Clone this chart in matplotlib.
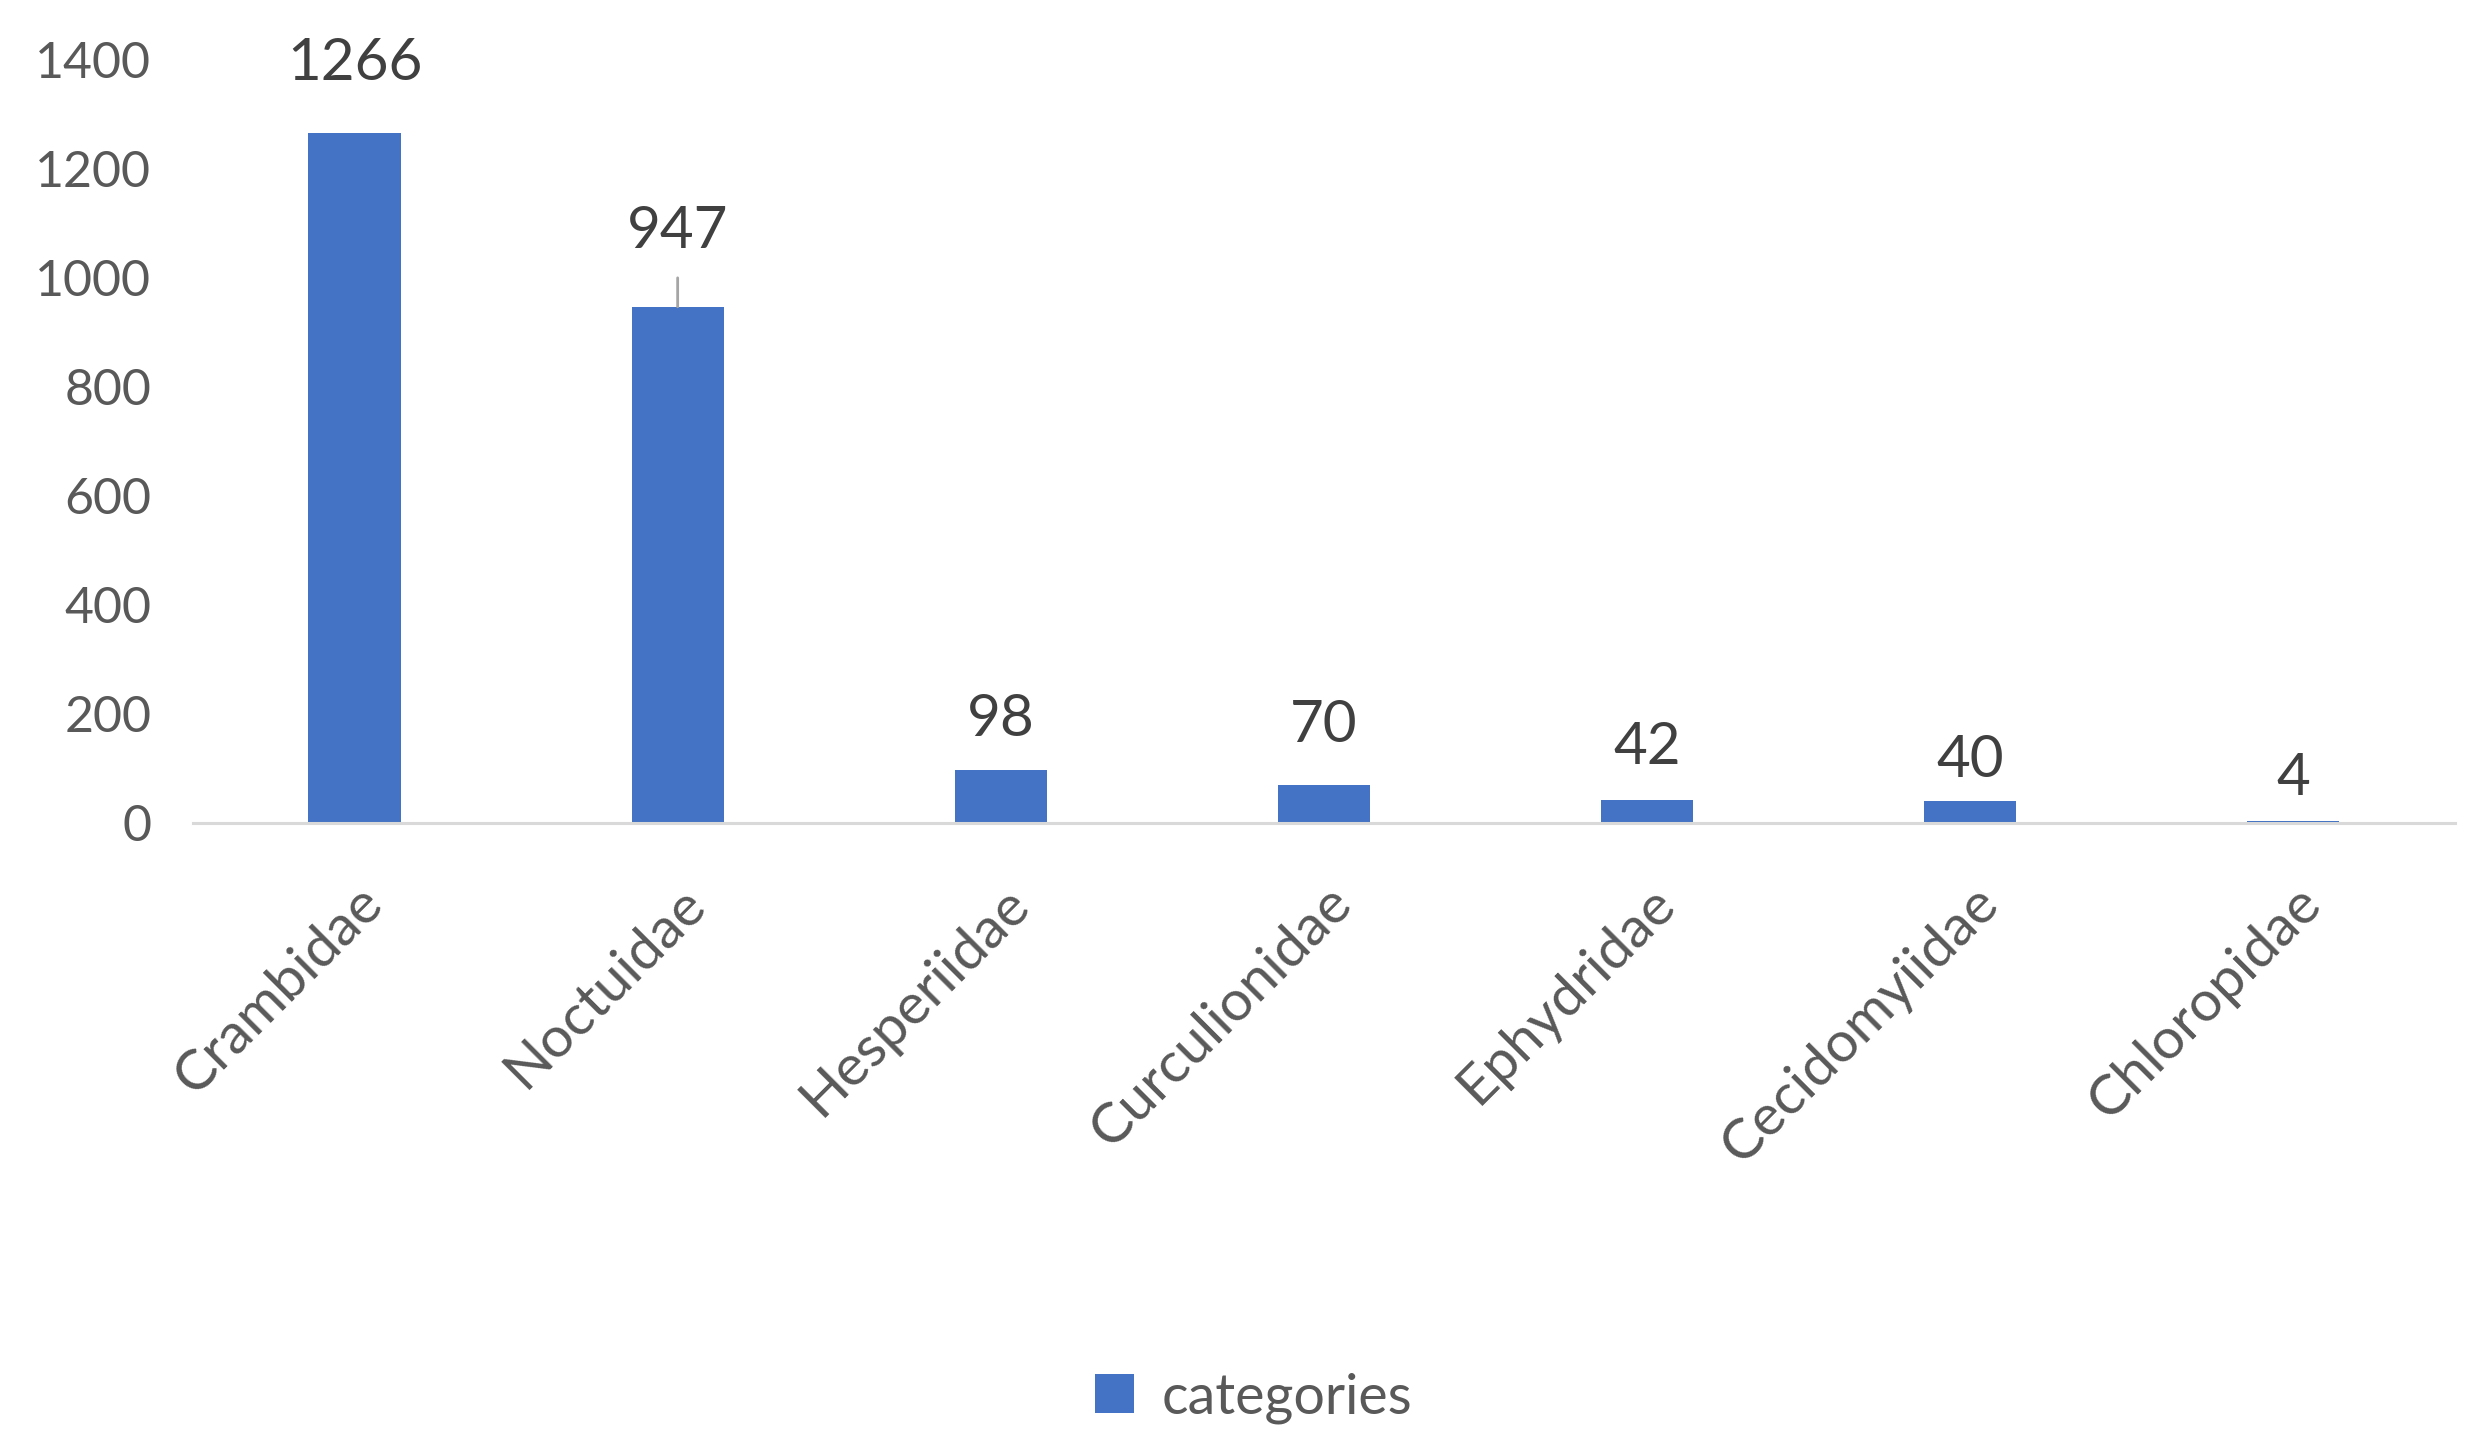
import numpy as np
import matplotlib.pyplot as plt
from matplotlib.transforms import ScaledTranslation

plt.rcParams['font.family'] = ['Lato', 'DejaVu Sans']

familias = ['Crambidae', 'Noctuidae', 'Hesperiidae', 'Curculionidae',
            'Ephydridae', 'Cecidomyiidae', 'Chloropidae']
conteos = [1266, 947, 98, 70, 42, 40, 4]
yticks = [0, 200, 400, 600, 800, 1000, 1200, 1400]

# desplazamiento de cada etiqueta sobre la barra (pixeles)
despl = [69, 75, 50, 59, 53, 41, 42]

azul = '#4472C4'

fig = plt.figure(figsize=(24.83, 14.45), dpi=100)
ax = fig.add_axes([0.0777, 0.4305, 0.911, 0.528])

x = np.arange(len(familias))
barras = ax.bar(x, conteos, width=0.285, color=azul, label='categories', zorder=2)

ax.set_xlim(-0.5, len(familias) - 0.5)
ax.set_ylim(0, 1400)
ax.set_yticks(yticks)
ax.set_yticklabels([str(v) for v in yticks], fontsize=36, color='#595959')
ax.set_xticks(x)
ax.set_xticklabels(familias, fontsize=41, color='#595959', rotation=45,
                   ha='right', va='center', rotation_mode='anchor')
ax.tick_params(axis='both', length=0)
ax.tick_params(axis='x', pad=52)
ax.tick_params(axis='y', pad=30)

# mover etiquetas del eje x un poco a la derecha
desp = ScaledTranslation(0.2, 0, fig.dpi_scale_trans)
for lbl in ax.get_xticklabels():
    lbl.set_transform(lbl.get_transform() + desp)

for s in ['top', 'right', 'left']:
    ax.spines[s].set_visible(False)
ax.spines['bottom'].set_color('#D9D9D9')
ax.spines['bottom'].set_linewidth(2.2)

for xi, v, d in zip(x, conteos, despl):
    ax.annotate(str(v), (xi, v), xytext=(0, d), textcoords='offset pixels',
                ha='center', va='center', fontsize=42, color='#404040',
                annotation_clip=False)

# linea guia de la etiqueta 947
ax.annotate('', (x[1], conteos[1]), xytext=(0, 29), textcoords='offset pixels',
            arrowprops=dict(arrowstyle='-', color='#A5A5A5', lw=2,
                            shrinkA=0, shrinkB=0))

fig.legend(handles=[barras], labels=['categories'], loc='center',
           bbox_to_anchor=(0.505, 0.0325), frameon=False, fontsize=40,
           handlelength=0.7, handleheight=0.7, handletextpad=0.5,
           labelcolor='#595959')

fig.savefig('out.png', dpi=100)
